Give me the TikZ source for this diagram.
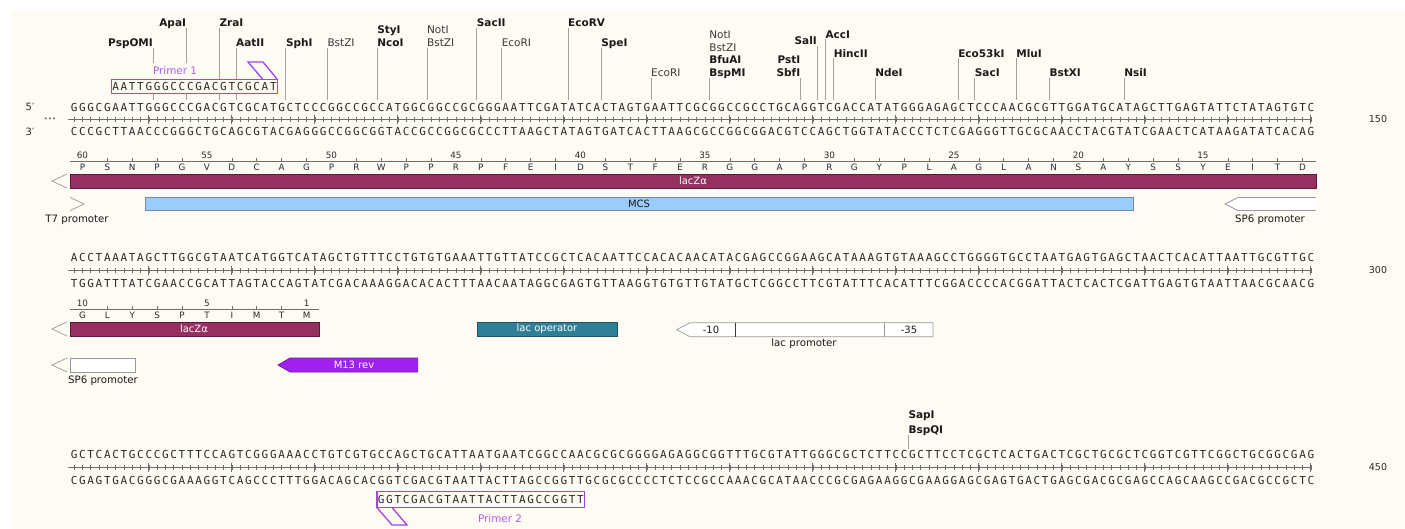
\documentclass[tikz,border=0pt]{standalone}
\usepackage{fontspec}
\setmainfont{DejaVu Sans}
\newfontfamily\seqfont{DejaVu Sans Mono}
\usetikzlibrary{calc}
\definecolor{bg}{HTML}{FEFBF4}
\definecolor{seqc}{HTML}{2A2A2A}
\definecolor{rulec}{HTML}{6E6E6E}
\definecolor{sitec}{HTML}{A0A0A0}
\definecolor{labc}{HTML}{1A1A1A}
\definecolor{labnc}{HTML}{3A3A3A}
\definecolor{primc}{HTML}{A445E6}
\definecolor{primt}{HTML}{B35CEB}
\definecolor{lacz}{HTML}{963060}
\definecolor{laczd}{HTML}{5A1A3A}
\definecolor{mcs}{HTML}{99CCFF}
\definecolor{mcsd}{HTML}{7A8A9A}
\definecolor{laco}{HTML}{2F7F96}
\definecolor{lacod}{HTML}{1F5566}
\definecolor{m13}{HTML}{A020F0}
\definecolor{m13d}{HTML}{6A1A9A}
\definecolor{chevc}{HTML}{9A9A9A}
\tikzset{
  seqch/.style={font=\seqfont\fontsize{11}{12}\selectfont,text=seqc,inner sep=0pt},
  rul/.style={draw=rulec,line width=0.6pt},
  rulmaj/.style={draw=rulec,line width=0.9pt},
  siteline/.style={draw=sitec,line width=0.7pt},
  labb/.style={font=\fontsize{10.5}{12}\selectfont\bfseries,text=labc,inner sep=0pt},
  labn/.style={font=\fontsize{10.5}{12}\selectfont,text=labnc,inner sep=0pt},
  featlab/.style={font=\fontsize{10.2}{12}\selectfont,text=labc,inner sep=0pt},
  barlab/.style={font=\fontsize{10}{12}\selectfont,text=white,inner sep=0pt},
  aa/.style={font=\fontsize{8.8}{10}\selectfont,text=seqc,inner sep=0pt},
  aatick/.style={draw=rulec,line width=0.6pt},
  primfill/.style={fill=bg},
  primline/.style={draw=primc,line width=1.3pt},
  primlab/.style={font=\fontsize{10.4}{12}\selectfont,text=primt,fill=bg,inner xsep=2pt,inner ysep=3.5pt},
  chev/.style={draw=chevc,line width=0.7pt},
  strandlab/.style={font=\fontsize{10}{12}\selectfont,text=seqc,inner sep=0pt},
  rownum/.style={font=\fontsize{9.5}{12}\selectfont,text=seqc,inner sep=0pt}
}
\newcount\seqi
\makeatletter
\def\seqrow#1#2#3#4{\seqi=#2\relax\def\seq@n{#1}\def\seq@y{#3}\seq@step#4\relax}
\def\seq@step#1{\ifx#1\relax\else\advance\seqi by 1\relax
  \node[seqch] (\seq@n\the\seqi) at ({70+8.3*(\the\seqi-0.5)},\seq@y) {#1};%
  \expandafter\seq@step\fi}
\makeatother
\newcommand\ruler[1]{%
  \draw[rul] (68,#1) -- (1311,#1);
  \foreach \k in {1,...,150}{\draw[rul] ({70+8.3*(\k-0.5)},#1-2.2) -- ++(0,4.4);}
  \foreach \k in {10,20,...,150}{\draw[rulmaj] ({70+8.3*(\k-0.5)},#1-4.5) -- ++(0,9);}
}
\newcommand\sitelab[6]{\node[#1,anchor=base #2] (#3) at (#4,#5) {#6};}
\newcommand\siteline[4]{\coordinate (#1c) at (#3,#4); \draw[siteline] ($(#1.base #2)+(0,1.2)$) -- (#1c);}
\begin{document}
\begin{tikzpicture}[x=1pt,y=-1pt]
\useasboundingbox (0,0) rectangle (1405,529);
\fill[white] (0,0) rectangle (1405,529);
\fill[bg] (12,11) rectangle (1405,529);

% ---------- restriction sites, row 1 ----------
\sitelab{labb}{east}{sPsp}{153}{46.5}{PspOMI}
\siteline{sPsp}{east}{153}{100.5}
\sitelab{labb}{east}{sApa}{186.2}{26.5}{ApaI}
\siteline{sApa}{east}{186.2}{100.5}
\sitelab{labb}{west}{sZra}{219.4}{26.5}{ZraI}
\siteline{sZra}{west}{219.4}{100.5}
\sitelab{labb}{west}{sAat}{236}{46.5}{AatII}
\siteline{sAat}{west}{236}{100.5}
\sitelab{labb}{west}{sSph}{285.8}{46.5}{SphI}
\siteline{sSph}{west}{285.8}{100.5}
\sitelab{labn}{west}{sBstZa}{327.3}{46.5}{BstZI}
\siteline{sBstZa}{west}{327.3}{100.5}
\sitelab{labb}{west}{sSty}{377.1}{33.1}{StyI}
\sitelab{labb}{west}{sNco}{377.1}{46.5}{NcoI}
\siteline{sNco}{west}{377.1}{100.5}
\sitelab{labn}{west}{sNota}{426.9}{33.1}{NotI}
\sitelab{labn}{west}{sBstZb}{426.9}{46.5}{BstZI}
\siteline{sBstZb}{west}{426.9}{100.5}
\sitelab{labb}{west}{sSacII}{476.7}{26.5}{SacII}
\siteline{sSacII}{west}{476.7}{100.5}
\sitelab{labn}{west}{sEcoRIa}{501.6}{46.5}{EcoRI}
\siteline{sEcoRIa}{west}{501.6}{100.5}
\sitelab{labb}{west}{sEcoRV}{568}{26.5}{EcoRV}
\siteline{sEcoRV}{west}{568}{100.5}
\sitelab{labb}{west}{sSpe}{601.2}{46.5}{SpeI}
\siteline{sSpe}{west}{601.2}{100.5}
\sitelab{labn}{west}{sEcoRIb}{651}{76.5}{EcoRI}
\siteline{sEcoRIb}{west}{651}{100.5}
\sitelab{labn}{west}{sNotb}{709.1}{38.1}{NotI}
\sitelab{labn}{west}{sBstZc}{709.1}{51.1}{BstZI}
\sitelab{labb}{west}{sBfu}{709.1}{63.8}{BfuAI}
\sitelab{labb}{west}{sBspM}{709.1}{76.5}{BspMI}
\siteline{sBspM}{west}{709.1}{100.5}
\sitelab{labb}{east}{sPst}{800.4}{63.8}{PstI}
\sitelab{labb}{east}{sSbf}{800.4}{76.5}{SbfI}
\siteline{sSbf}{east}{800.4}{100.5}
\sitelab{labb}{east}{sSal}{817}{44.5}{SalI}
\siteline{sSal}{east}{817}{100.5}
\sitelab{labb}{west}{sAcc}{825.3}{38.1}{AccI}
\siteline{sAcc}{west}{825.3}{100.5}
\sitelab{labb}{west}{sHinc}{833.6}{57.1}{HincII}
\siteline{sHinc}{west}{833.6}{100.5}
\sitelab{labb}{west}{sNde}{875.1}{76.5}{NdeI}
\siteline{sNde}{west}{875.1}{100.5}
\sitelab{labb}{west}{sEcoF}{958.1}{57.1}{Eco53kI}
\siteline{sEcoF}{west}{958.1}{100.5}
\sitelab{labb}{west}{sSacI}{974.7}{76.5}{SacI}
\siteline{sSacI}{west}{974.7}{100.5}
\sitelab{labb}{west}{sMlu}{1016.2}{57.1}{MluI}
\siteline{sMlu}{west}{1016.2}{100.5}
\sitelab{labb}{west}{sBstX}{1049.4}{76.5}{BstXI}
\siteline{sBstX}{west}{1049.4}{100.5}
\sitelab{labb}{west}{sNsi}{1124.1}{76.5}{NsiI}
\siteline{sNsi}{west}{1124.1}{100.5}

% ---------- primer 1 ----------
\node[primlab] (p1lab) at (175,71) {Primer 1};
\fill[primfill] (111.5,79.5) rectangle (277.5,93.5);
\seqrow{pa}{5}{86.7}{AATTGGGCCCGACGTCGCAT}
\coordinate (p1a) at (263,79.5);
\coordinate (p1b) at (248,62);
\coordinate (p1c) at (263,62);
\coordinate (p1d) at (277.5,79.5);
\coordinate (p1e) at (111.5,79.5);
\coordinate (p1f) at (111.5,93.5);
\coordinate (p1g) at (277.5,93.5);
\draw[primline] (p1e) rectangle (p1g);
\draw[primline,line join=miter] (p1a) -- (p1b) -- (p1c) -- (p1d);

% ---------- row 1 ----------
\node[strandlab] (five1) at (30,107) {5′};
\node[strandlab] (three1) at (30,131.5) {3′};
\node[font=\fontsize{7}{8}\selectfont,text=rulec,inner sep=0pt] (dots1) at (50,119.5) {•••};
\seqrow{ta}{0}{107}{GGGCGAATTGGGCCCGACGTCGCATGCTCCCGGCCGCCATGGCGGCCGCGGGAATTCGATATCACTAGTGAATTCGCGGCCGCCTGCAGGTCGACCATATGGGAGAGCTCCCAACGCGTTGGATGCATAGCTTGAGTATTCTATAGTGTC}
\ruler{119.5}
\seqrow{ba}{0}{131.5}{CCCGCTTAACCCGGGCTGCAGCGTACGAGGGCCGGCGGTACCGCCGGCGCCCTTAAGCTATAGTGATCACTTAAGCGCCGGCGGACGTCCAGCTGGTATACCCTCTCGAGGGTTGCGCAACCTACGTATCGAACTCATAAGATATCACAG}
\node[rownum] (n150) at (1378,119.5) {150};

% translation row 1
\draw[aatick] (70,161) -- (1316,161);
\foreach \a [count=\j from 0] in {P,S,N,P,G,V,D,C,A,G,P,R,W,P,P,R,P,F,E,I,D,S,T,F,E,R,G,G,A,P,R,G,Y,P,L,A,G,L,A,N,S,A,Y,S,S,Y,E,I,T,D}{
  \node[aa] (aaA\j) at ({82.45+24.9*\j},167.5) {\a};
  \pgfmathtruncatemacro\r{mod(\j,5)}
  \ifnum\r=0
    \pgfmathtruncatemacro\num{60-\j}
    \node[aa] (anA\j) at ({82.45+24.9*\j},155.5) {\num};
  \else
    \draw[aatick] ({82.45+24.9*\j},161) -- ++(0,-3);
  \fi
}
% lacZ row 1
\draw[chev] (67,174) -- (52,181) -- (67,188);
\draw[fill=lacz,draw=laczd,line width=0.7pt] (70,174) rectangle (1316,188);
\node[barlab] (lacz1) at (693,181) {lacZα};
% MCS, T7, SP6
\draw[fill=mcs,draw=mcsd,line width=0.7pt] (145,197.5) rectangle (1133,210.5);
\node[font=\fontsize{10}{12}\selectfont,text=labc,inner sep=0pt] (mcs) at (639,204) {MCS};
\draw[chev] (70,197.5) -- (84,204) -- (70,210.5);
\node[featlab] (t7) at (77,219.5) {T7 promoter};
\draw[chev,fill=white] (1316,197.5) -- (1238,197.5) -- (1225,204) -- (1238,210.5) -- (1316,210.5);
\node[featlab] (sp6a) at (1270,219.5) {SP6 promoter};

% ---------- row 2 ----------
\seqrow{tb}{0}{257}{ACCTAAATAGCTTGGCGTAATCATGGTCATAGCTGTTTCCTGTGTGAAATTGTTATCCGCTCACAATTCCACACAACATACGAGCCGGAAGCATAAAGTGTAAAGCCTGGGGTGCCTAATGAGTGAGCTAACTCACATTAATTGCGTTGC}
\ruler{270.5}
\seqrow{bb}{0}{283.5}{TGGATTTATCGAACCGCATTAGTACCAGTATCGACAAAGGACACACTTTAACAATAGGCGAGTGTTAAGGTGTGTTGTATGCTCGGCCTTCGTATTTCACATTTCGGACCCCACGGATTACTCACTCGATTGAGTGTAATTAACGCAACG}
\node[rownum] (n300) at (1378,270.5) {300};

\draw[aatick] (70,309) -- (319,309);
\foreach \a/\n [count=\j from 0] in {G/10,L/,Y/,S/,P/,T/5,I/,M/,T/,M/1}{
  \node[aa] (aaB\j) at ({82.45+24.9*\j},315.5) {\a};
  \ifx\n\empty
    \draw[aatick] ({82.45+24.9*\j},309) -- ++(0,-3);
  \else
    \node[aa] (anB\j) at ({82.45+24.9*\j},303.5) {\n};
  \fi
}
\draw[chev] (67,322) -- (52,329) -- (67,336);
\draw[fill=lacz,draw=laczd,line width=0.7pt] (70,322) rectangle (319,336);
\node[barlab] (lacz2) at (194,329) {lacZα};
\draw[fill=laco,draw=lacod,line width=0.7pt] (477,322) rectangle (617,336);
\node[barlab] (laco) at (547,329) {lac operator};
\draw[chev,fill=white] (676.7,329.7) -- (690,322.7) -- (933,322.7) -- (933,336.7) -- (690,336.7) -- cycle;
\draw[draw=labnc,line width=0.7pt] (735,322.7) -- (735,336.7);
\draw[chev] (884,322.7) -- (884,336.7);
\node[font=\fontsize{10}{12}\selectfont,text=labc,inner sep=0pt] (m10) at (711,329.7) {-10};
\node[font=\fontsize{10}{12}\selectfont,text=labc,inner sep=0pt] (m35) at (909,329.7) {-35};
\node[featlab] (lacp) at (804,344) {lac promoter};

\draw[chev] (67,358) -- (52,365) -- (67,372);
\draw[chev,fill=white] (70,358) rectangle (135,372);
\node[featlab] (sp6b) at (103,380.5) {SP6 promoter};
\draw[fill=m13,draw=m13d,line width=0.7pt] (278,365) -- (290,358) -- (417.7,358) -- (417.7,372) -- (290,372) -- cycle;
\node[barlab] (m13) at (354,365) {M13 rev};

% ---------- row 3 ----------
\sitelab{labb}{west}{sSap}{908.3}{418.8}{SapI}
\sitelab{labb}{west}{sBspQ}{908.3}{433.8}{BspQI}
\siteline{sBspQ}{west}{908.3}{448.5}
\seqrow{tc}{0}{454}{GCTCACTGCCCGCTTTCCAGTCGGGAAACCTGTCGTGCCAGCTGCATTAATGAATCGGCCAACGCGCGGGGAGAGGCGGTTTGCGTATTGGGCGCTCTTCCGCTTCCTCGCTCACTGACTCGCTGCGCTCGGTCGTTCGGCTGCGGCGAG}
\ruler{467.5}
\seqrow{bc}{0}{480.5}{CGAGTGACGGGCGAAAGGTCAGCCCTTTGGACAGCACGGTCGACGTAATTACTTAGCCGGTTGCGCGCCCCTCTCCGCCAAACGCATAACCCGCGAGAAGGCGAAGGAGCGAGTGACTGAGCGACGCGAGCCAGCAAGCCGACGCCGCTC}
\node[rownum] (n450) at (1378,467.5) {450};

% primer 2
\fill[primfill] (376.9,491.5) rectangle (584.6,507.5);
\seqrow{pb}{37}{499.5}{GGTCGACGTAATTACTTAGCCGGTT}
\coordinate (p2e) at (376.9,491.5);
\coordinate (p2g) at (584.6,507.5);
\draw[primline] (p2e) rectangle (p2g);
\coordinate (p2a) at (376.9,507.5);
\coordinate (p2b) at (392,525);
\coordinate (p2c) at (407,525);
\coordinate (p2d) at (392,507.5);
\draw[primline,line join=miter] (p2a) -- (p2b) -- (p2c) -- (p2d);
\node[primlab,fill=none,inner sep=0pt] (p2lab) at (500,518.5) {Primer 2};
\end{tikzpicture}
\end{document}
